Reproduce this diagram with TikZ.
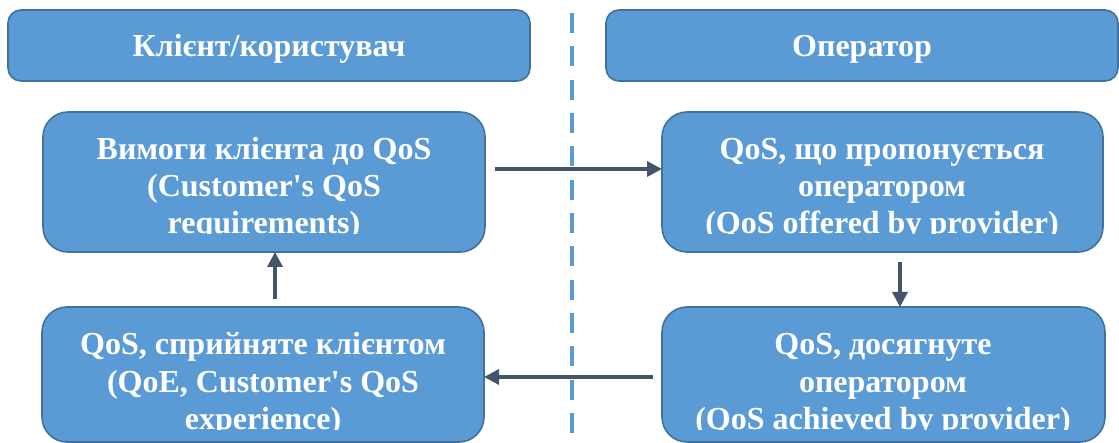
\documentclass[tikz,border=0pt]{standalone}
\usepackage{fontspec}
\setmainfont{Liberation Serif}
\usetikzlibrary{arrows.meta}
\definecolor{boxfill}{HTML}{5B9BD5}
\definecolor{boxline}{HTML}{41719C}
\definecolor{arrowcol}{HTML}{44546A}
\tikzset{
  panel/.style={draw=boxline, fill=boxfill, line width=1.6pt, rounded corners=#1,
    inner sep=0pt, outer sep=0pt, anchor=north west},
  txt/.style={text=white, font=\fontsize{32}{37}\selectfont\bfseries, inner sep=0pt, anchor=base},
  flow/.style={draw=arrowcol, line width=3.4pt, -{Triangle[length=15pt,width=15pt]}},
  divider/.style={draw=boxfill, line width=4pt, dash pattern=on 20pt off 13.33pt}
}
\begin{document}
\begin{tikzpicture}[x=1pt,y=-1pt]
\useasboundingbox (0,0) rectangle (1119,443);

% vertical divider between the two sides
\coordinate (divTop) at (572,13);
\coordinate (divBot) at (572,443);
\draw[divider] (divTop) -- (divBot);

% column headers
\node[panel=13pt, minimum width=522pt, minimum height=71pt] (hdrL) at (8,10) {};
\node[panel=13pt, minimum width=512pt, minimum height=71pt] (hdrR) at (606,10) {};
\node[txt] (hdrLt) at (269,57) {Клієнт/користувач};
\node[txt] (hdrRt) at (862,57) {Оператор};

% process boxes
\node[panel=25pt, minimum width=442pt, minimum height=140pt] (ml) at (43,112) {};
\node[panel=25pt, minimum width=441pt, minimum height=140pt] (mr) at (662,112) {};
\node[panel=25pt, minimum width=442pt, minimum height=135pt] (bl) at (42,307) {};
\node[panel=25pt, minimum width=443pt, minimum height=135pt] (br) at (662,307) {};

% box texts, last line cut at the inner text margin
\begin{scope}
  \clip (43,112) rectangle (485,234);
  \node[txt] (ml1) at (264,160) {Вимоги клієнта до QoS};
  \node[txt] (ml2) at (264,197) {(Customer\textquotesingle s QoS};
  \node[txt] (ml3) at (264,234) {requirements)};
\end{scope}
\begin{scope}
  \clip (662,112) rectangle (1103,234);
  \node[txt] (mr1) at (882,160) {QoS, що пропонується};
  \node[txt] (mr2) at (882,197) {оператором};
  \node[txt] (mr3) at (882,234) {(QoS offered by provider)};
\end{scope}
\begin{scope}
  \clip (42,307) rectangle (484,429);
  \node[txt] (bl1) at (263,355) {QoS, сприйняте клієнтом};
  \node[txt] (bl2) at (263,392) {(QoE, Customer\textquotesingle s QoS};
  \node[txt] (bl3) at (263,429) {experience)};
\end{scope}
\begin{scope}
  \clip (662,307) rectangle (1105,429);
  \node[txt] (br1) at (883,355) {QoS, досягнуте};
  \node[txt] (br2) at (883,392) {оператором};
  \node[txt] (br3) at (883,429) {(QoS achieved by provider)};
\end{scope}

% flow arrows
\coordinate (a1s) at (495,169);
\draw[flow] (a1s) -- (a1s -| mr.west);
\coordinate (a2s) at (900,262);
\draw[flow] (a2s) -- (a2s |- br.north);
\coordinate (a3s) at (653,377);
\draw[flow] (a3s) -- (a3s -| bl.east);
\coordinate (a4s) at (275,299);
\draw[flow] (a4s) -- (a4s |- ml.south);
\end{tikzpicture}
\end{document}
